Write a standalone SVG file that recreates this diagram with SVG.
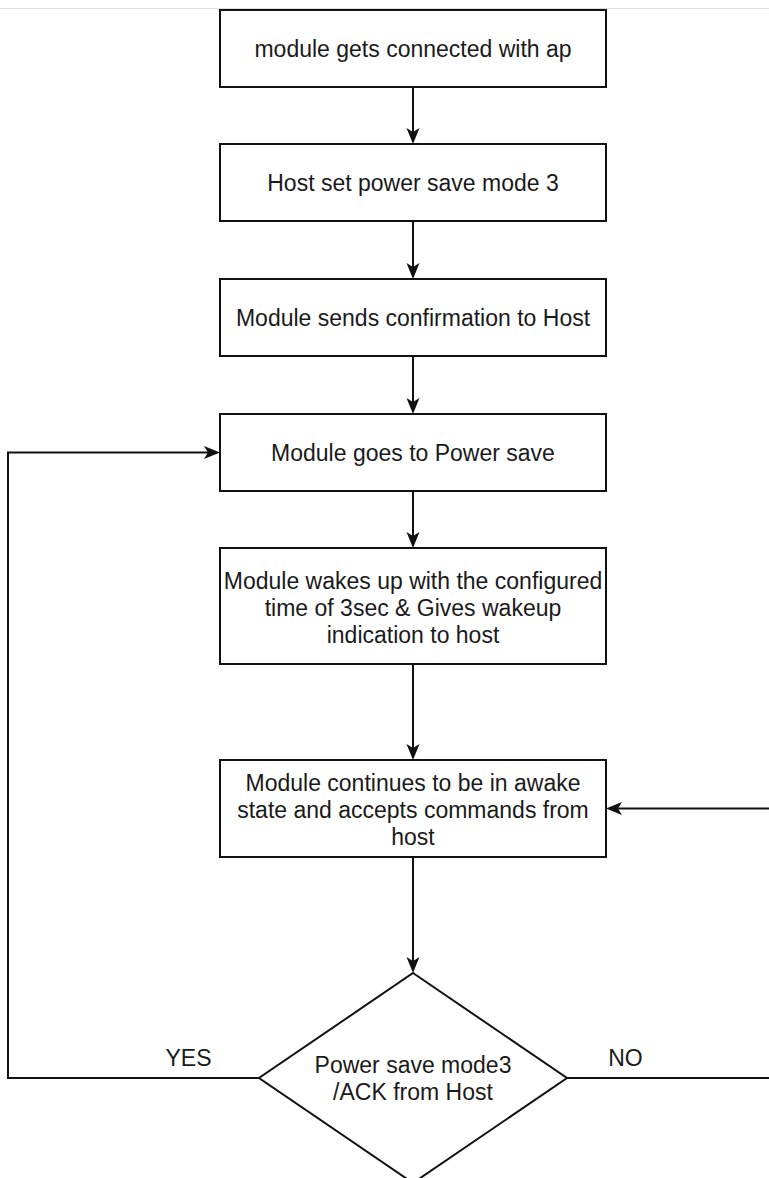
<svg xmlns="http://www.w3.org/2000/svg" width="769" height="1178" viewBox="0 0 769 1178">
<style>
.box{fill:#fff;stroke:#111;stroke-width:2}
.t{font-family:"Liberation Sans",Arial,sans-serif;font-size:23px;fill:#1a1a1a;text-anchor:middle}
.c{fill:none;stroke:#111;stroke-width:2}
</style>
<defs>
<marker id="ah" markerUnits="userSpaceOnUse" markerWidth="18" markerHeight="16" viewBox="0 0 18 16" refX="13" refY="8" orient="auto">
<path d="M0,1.5 L16,8 L0,14.5 L4,8 Z" fill="#111"/>
</marker>
</defs>
<rect width="769" height="1178" fill="#fff"/>
<line x1="0" y1="8.5" x2="769" y2="8.5" stroke="#dcdcdc" stroke-width="1"/>
<g id="connectors">
<path class="c" d="M413,87 V141" marker-end="url(#ah)"/>
<path class="c" d="M413,221 V276" marker-end="url(#ah)"/>
<path class="c" d="M413,356 V411" marker-end="url(#ah)"/>
<path class="c" d="M413,491 V545" marker-end="url(#ah)"/>
<path class="c" d="M413,664 V757" marker-end="url(#ah)"/>
<path class="c" d="M413,857 V970" marker-end="url(#ah)"/>
<path class="c" d="M259,1078 H8 V452.5 H217" marker-end="url(#ah)"/>
<path class="c" d="M567,1078 H775 V808.5 H609" marker-end="url(#ah)"/>
</g>
<g id="n1"><rect class="box" x="220" y="10" width="386" height="77"/><text class="t" x="413" y="57">module gets connected with ap</text></g>
<g id="n2"><rect class="box" x="220" y="144" width="386" height="77"/><text class="t" x="413" y="191">Host set power save mode 3</text></g>
<g id="n3"><rect class="box" x="220" y="279" width="386" height="77"/><text class="t" x="413" y="326">Module sends confirmation to Host</text></g>
<g id="n4"><rect class="box" x="220" y="414" width="386" height="77"/><text class="t" x="413" y="461">Module goes to Power save</text></g>
<g id="n5"><rect class="box" x="220" y="548" width="386" height="116"/><text class="t" x="413" y="589">Module wakes up with the configured</text><text class="t" x="413" y="616">time of 3sec &amp; Gives wakeup</text><text class="t" x="413" y="643">indication to host</text></g>
<g id="n6"><rect class="box" x="220" y="760" width="386" height="97"/><text class="t" x="413" y="791">Module continues to be in awake</text><text class="t" x="413" y="818">state and accepts commands from</text><text class="t" x="413" y="845">host</text></g>
<g id="n7"><polygon class="box" points="413,973 567,1078 413,1183 259,1078"/><text class="t" x="413" y="1073">Power save mode3</text><text class="t" x="413" y="1100">/ACK from Host</text></g>
<g id="labels"><text class="t" x="188.5" y="1066">YES</text><text class="t" x="625.5" y="1066">NO</text></g>
</svg>
